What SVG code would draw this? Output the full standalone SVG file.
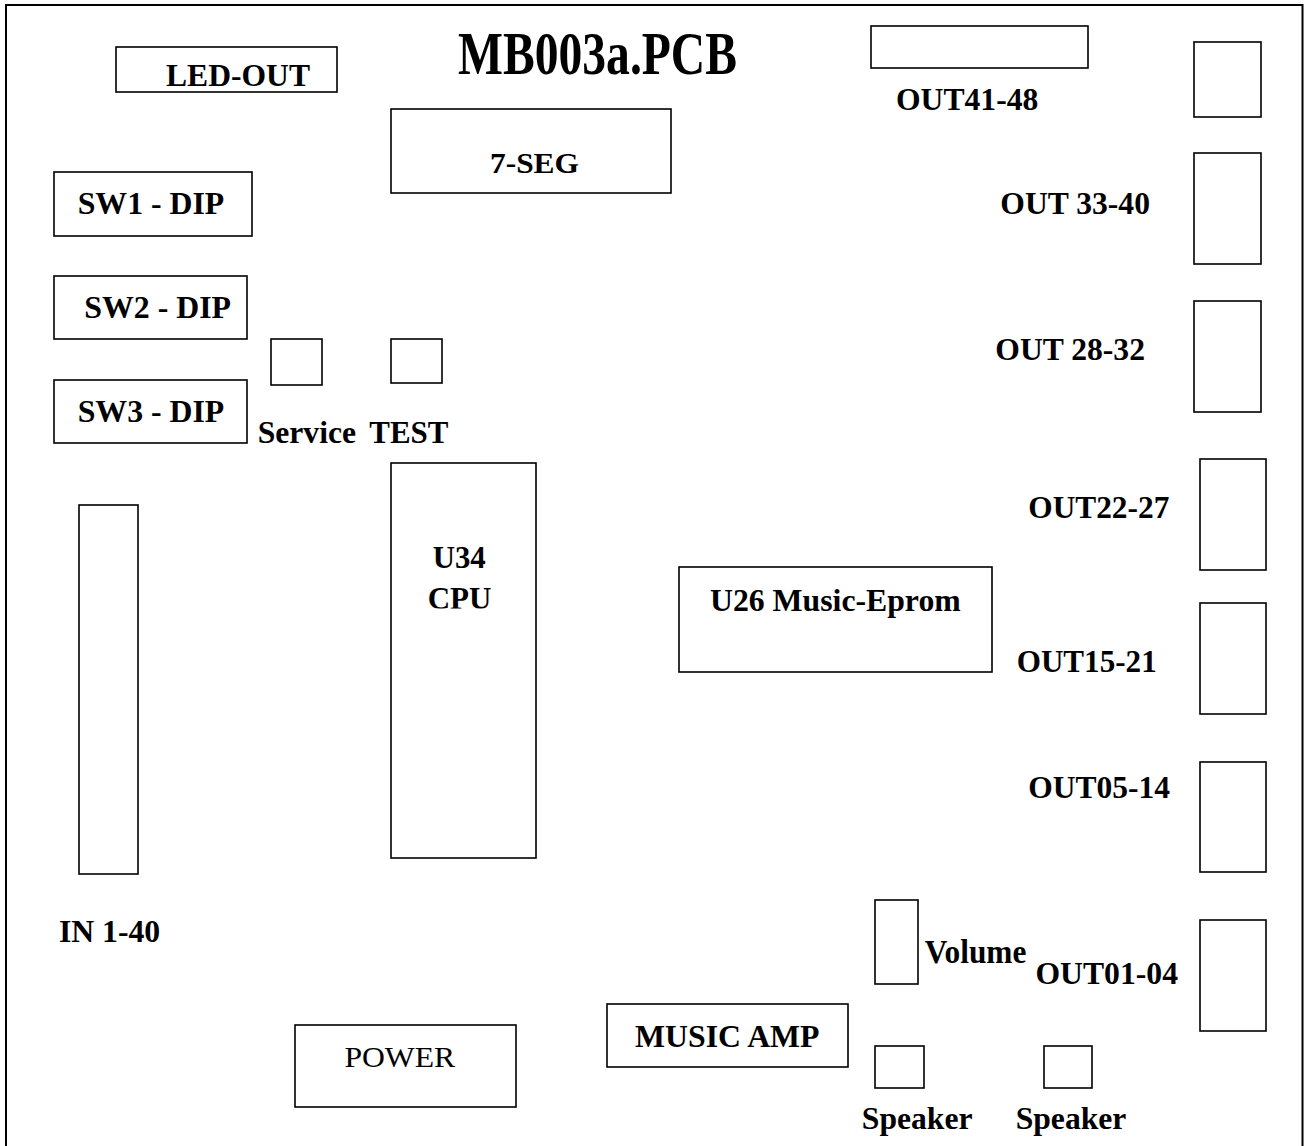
<svg xmlns="http://www.w3.org/2000/svg" width="1305" height="1146" viewBox="0 0 1305 1146">
<style>
.box{fill:none;stroke:#000;stroke-width:1.6}
.t{font-family:"Liberation Serif","Times New Roman",serif;font-weight:bold;font-size:32px;fill:#000}
.n{font-family:"Liberation Serif","Times New Roman",serif;font-weight:normal;font-size:30px;fill:#000}
</style>
<defs>
<clipPath id="cpuclip"><rect x="391" y="463" width="145" height="145.5"/></clipPath>
</defs>
<rect x="0" y="0" width="1305" height="1146" fill="#fff"/>
<rect id="board" x="6" y="5" width="1296.5" height="1160" fill="none" stroke="#000" stroke-width="2"/>
<text id="title" class="t" x="458" y="74" style="font-size:62px" textLength="279" lengthAdjust="spacingAndGlyphs">MB003a.PCB</text>
<g id="led-out"><rect class="box" x="116" y="47" width="221" height="45"/><text class="t" x="166" y="86" textLength="144" lengthAdjust="spacingAndGlyphs">LED-OUT</text></g>
<g id="seg7"><rect class="box" x="391" y="109" width="280" height="84"/><text class="t" x="490" y="173.3" style="font-size:29px" textLength="89" lengthAdjust="spacingAndGlyphs">7-SEG</text></g>
<g id="out41-48"><rect class="box" x="871" y="26" width="217" height="42"/><text class="t" x="896" y="110" textLength="142.3" lengthAdjust="spacingAndGlyphs">OUT41-48</text></g>
<g id="conn-top"><rect class="box" x="1194" y="42" width="67" height="75"/></g>
<g id="out33-40"><rect class="box" x="1194" y="153" width="67" height="111"/><text class="t" x="1000.3" y="214" textLength="149.7" lengthAdjust="spacingAndGlyphs">OUT 33-40</text></g>
<g id="out28-32"><rect class="box" x="1194" y="301" width="67" height="111"/><text class="t" x="995.3" y="360" textLength="149.7" lengthAdjust="spacingAndGlyphs">OUT 28-32</text></g>
<g id="out22-27"><rect class="box" x="1200" y="459" width="66" height="111"/><text class="t" x="1028.3" y="518.3" textLength="141" lengthAdjust="spacingAndGlyphs">OUT22-27</text></g>
<g id="out15-21"><rect class="box" x="1200" y="603" width="66" height="111"/><text class="t" x="1016.7" y="672.3" textLength="140" lengthAdjust="spacingAndGlyphs">OUT15-21</text></g>
<g id="out05-14"><rect class="box" x="1200" y="762" width="66" height="110"/><text class="t" x="1028.3" y="797.7" textLength="141.7" lengthAdjust="spacingAndGlyphs">OUT05-14</text></g>
<g id="out01-04"><rect class="box" x="1200" y="920" width="66" height="111"/><text class="t" x="1035.4" y="984" textLength="142.6" lengthAdjust="spacingAndGlyphs">OUT01-04</text></g>
<g id="sw1"><rect class="box" x="54" y="172" width="198" height="64"/><text class="t" x="77.7" y="214" textLength="146.6" lengthAdjust="spacingAndGlyphs">SW1 - DIP</text></g>
<g id="sw2"><rect class="box" x="54" y="276" width="193" height="63"/><text class="t" x="84.3" y="318" textLength="146.7" lengthAdjust="spacingAndGlyphs">SW2 - DIP</text></g>
<g id="sw3"><rect class="box" x="54" y="380" width="193" height="63"/><text class="t" x="77.7" y="422" textLength="146.6" lengthAdjust="spacingAndGlyphs">SW3 - DIP</text></g>
<g id="service"><rect class="box" x="271" y="339" width="51" height="46"/><text class="t" x="257.7" y="442.7" textLength="98.3" lengthAdjust="spacingAndGlyphs">Service</text></g>
<g id="test"><rect class="box" x="391" y="339" width="51" height="44"/><text class="t" x="369.3" y="442.7" textLength="79" lengthAdjust="spacingAndGlyphs">TEST</text></g>
<g id="in1-40"><rect class="box" x="79" y="505" width="59" height="369"/><text class="t" x="58.9" y="941.7" textLength="101.3" lengthAdjust="spacingAndGlyphs">IN 1-40</text></g>
<g id="cpu"><rect class="box" x="391" y="463" width="145" height="395"/><text class="t" x="432.7" y="568.3" textLength="53" lengthAdjust="spacingAndGlyphs">U34</text><text class="t" x="427.7" y="609.3" textLength="63.8" lengthAdjust="spacingAndGlyphs" clip-path="url(#cpuclip)">CPU</text></g>
<g id="u26"><rect class="box" x="679" y="567" width="313" height="105"/><text class="t" x="710" y="610.7" textLength="250.7" lengthAdjust="spacingAndGlyphs">U26 Music-Eprom</text></g>
<g id="power"><rect class="box" x="295" y="1025" width="221" height="82"/><text class="n" x="344.4" y="1066.7" textLength="110.8" lengthAdjust="spacingAndGlyphs">POWER</text></g>
<g id="music-amp"><rect class="box" x="607" y="1004" width="241" height="63"/><text class="t" x="635.1" y="1046.7" textLength="184.4" lengthAdjust="spacingAndGlyphs">MUSIC AMP</text></g>
<g id="volume"><rect class="box" x="875" y="900" width="43" height="84"/><text class="t" x="924.8" y="963.3" style="font-size:34px" textLength="101.6" lengthAdjust="spacingAndGlyphs">Volume</text></g>
<g id="speaker1"><rect class="box" x="875" y="1046" width="49" height="42"/><text class="t" x="861.8" y="1129.3" textLength="110.7" lengthAdjust="spacingAndGlyphs">Speaker</text></g>
<g id="speaker2"><rect class="box" x="1044" y="1046" width="48" height="42"/><text class="t" x="1015.7" y="1129.3" textLength="110.7" lengthAdjust="spacingAndGlyphs">Speaker</text></g>
<g id="connectors"></g>
</svg>
